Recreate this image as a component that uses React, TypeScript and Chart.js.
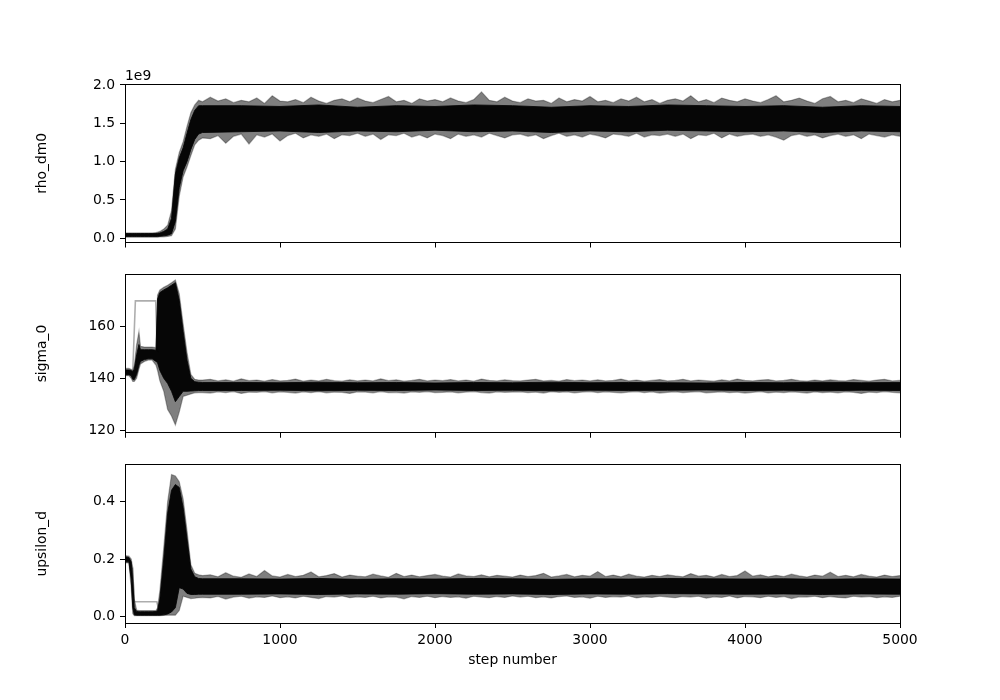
import React, { useEffect, useRef } from "react";
import { Chart, registerables } from "chart.js";

Chart.register(...registerables);

const FONT_FAMILY = "'DejaVu Sans', sans-serif";
const FONT_SIZE = 13.9;

// ---- x grids (step number) ----
// transient grid (25 points): idx 0..24
const transientSteps = [0, 25, 40, 50, 60, 75, 90, 100, 125, 150, 175, 200, 210, 225, 250, 275, 300, 325, 350, 375, 400, 425, 450, 475, 500];
const stationarySteps = [
  550, 600, 650, 700, 750, 800, 850, 900, 950, 1000,
  1050, 1100, 1150, 1200, 1250, 1300, 1350, 1400, 1450, 1500,
  1550, 1600, 1650, 1700, 1750, 1800, 1850, 1900, 1950, 2000,
  2050, 2100, 2150, 2200, 2250, 2300, 2350, 2400, 2450, 2500,
  2550, 2600, 2650, 2700, 2750, 2800, 2850, 2900, 2950, 3000,
  3050, 3100, 3150, 3200, 3250, 3300, 3350, 3400, 3450, 3500,
  3550, 3600, 3650, 3700, 3750, 3800, 3850, 3900, 3950, 4000,
  4050, 4100, 4150, 4200, 4250, 4300, 4350, 4400, 4450, 4500,
  4550, 4600, 4650, 4700, 4750, 4800, 4850, 4900, 4950, 5000,
];
const coreStationarySteps = [750, 1000, 1250, 1500, 1750, 2000, 2250, 2500, 2750, 3000, 3250, 3500, 3750, 4000, 4250, 4500, 4750, 5000];
const bandSteps = [...transientSteps, ...stationarySteps];
const coreSteps = [...transientSteps, ...coreStationarySteps];

// ---- tick labels ----
const stepTicks = [0, 1000, 2000, 3000, 4000, 5000];
const rhoTicks = [0, 0.5, 1.0, 1.5, 2.0];
const sigmaTicks = [120, 140, 160];
const upsTicks = [0, 0.2, 0.4];

// ---- rho_dm0 (units of 1e9) ----
const rhoFringeUpper = [
  0.07, 0.07, 0.07, 0.07, 0.07, 0.07, 0.07, 0.07, 0.07, 0.07, 0.07, 0.075, 0.08,
  0.09, 0.12, 0.17, 0.36, 0.90, 1.12, 1.26, 1.46, 1.64, 1.74, 1.80, 1.78,
  1.84, 1.79, 1.82, 1.77, 1.80, 1.78, 1.83, 1.76, 1.86, 1.79,
  1.78, 1.81, 1.77, 1.84, 1.79, 1.76, 1.80, 1.82, 1.78, 1.83,
  1.79, 1.77, 1.81, 1.85, 1.78, 1.80, 1.76, 1.82, 1.79, 1.81,
  1.78, 1.83, 1.79, 1.77, 1.81, 1.91, 1.80, 1.78, 1.84, 1.79,
  1.77, 1.82, 1.79, 1.80, 1.76, 1.83, 1.78, 1.81, 1.79, 1.85,
  1.78, 1.80, 1.77, 1.82, 1.79, 1.84, 1.78, 1.81, 1.76, 1.80,
  1.82, 1.79, 1.86, 1.78, 1.81, 1.77, 1.83, 1.80, 1.78, 1.82,
  1.79, 1.77, 1.81, 1.86, 1.78, 1.80, 1.83, 1.79, 1.76, 1.82,
  1.85, 1.78, 1.80, 1.77, 1.82, 1.79, 1.76, 1.81, 1.78, 1.80,
];
const rhoFringeLower = [
  0.015, 0.015, 0.015, 0.015, 0.015, 0.015, 0.015, 0.015, 0.015, 0.015, 0.015, 0.015, 0.015,
  0.018, 0.02, 0.025, 0.035, 0.12, 0.55, 0.80, 0.93, 1.08, 1.22, 1.28, 1.31,
  1.30, 1.34, 1.24, 1.33, 1.36, 1.23, 1.35, 1.32, 1.36, 1.27,
  1.34, 1.37, 1.31, 1.35, 1.33, 1.36, 1.30, 1.35, 1.34, 1.37,
  1.33, 1.36, 1.29, 1.35, 1.34, 1.37, 1.32, 1.35, 1.31, 1.36,
  1.34, 1.30, 1.36, 1.33, 1.35, 1.32, 1.37, 1.34, 1.31, 1.35,
  1.36, 1.33, 1.35, 1.30, 1.34, 1.37, 1.33, 1.35, 1.32, 1.36,
  1.34, 1.31, 1.36, 1.35, 1.33, 1.37, 1.32, 1.35, 1.34, 1.36,
  1.33, 1.36, 1.30, 1.35, 1.34, 1.37, 1.31, 1.36, 1.33, 1.35,
  1.36, 1.33, 1.35, 1.32, 1.28, 1.34, 1.36, 1.33, 1.35, 1.31,
  1.34, 1.36, 1.33, 1.35, 1.30, 1.36, 1.34, 1.32, 1.35, 1.33,
];
const rhoCoreUpper = [
  0.062, 0.062, 0.062, 0.062, 0.062, 0.062, 0.062, 0.062, 0.062, 0.062, 0.062, 0.062, 0.065,
  0.07, 0.09, 0.12, 0.26, 0.84, 1.05, 1.18, 1.37, 1.55, 1.67, 1.73, 1.73,
  1.73, 1.72, 1.74, 1.71, 1.73, 1.72, 1.74, 1.73, 1.71, 1.73, 1.72, 1.74, 1.73, 1.72, 1.73, 1.71, 1.73, 1.72,
];
const rhoCoreLower = [
  0.025, 0.025, 0.025, 0.025, 0.025, 0.025, 0.025, 0.025, 0.025, 0.025, 0.025, 0.025, 0.025,
  0.028, 0.032, 0.04, 0.06, 0.22, 0.66, 0.88, 1.0, 1.16, 1.29, 1.36, 1.38,
  1.39, 1.40, 1.38, 1.40, 1.39, 1.41, 1.39, 1.40, 1.38, 1.40, 1.39, 1.41, 1.40, 1.39, 1.40, 1.38, 1.40, 1.39,
];

// ---- sigma_0 ----
const sigmaFringeUpper = [
  143.8, 143.8, 143.5, 143.0, 145.0, 153.0, 158.0, 152.3, 152.0, 152.0, 152.0, 151.8, 172.0,
  174.0, 175.0, 175.8, 176.8, 177.8, 172.5, 161.0, 150.0, 141.5, 139.6, 139.3, 139.3,
  139.6, 139.0, 139.4, 138.9, 139.8, 139.1, 139.3, 138.9, 139.5, 139.0,
  139.2, 139.7, 138.9, 139.3, 139.0, 139.6, 139.1, 138.9, 139.4, 139.0,
  139.3, 139.0, 139.8, 139.1, 139.4, 138.9, 139.2, 139.6, 139.0, 139.3,
  139.1, 139.5, 139.0, 139.3, 138.9, 139.7, 139.2, 139.0, 139.4, 139.1,
  139.0, 139.3, 139.6, 139.0, 139.2, 138.9, 139.5, 139.1, 139.3, 139.0,
  139.4, 139.0, 139.2, 139.7, 139.0, 139.3, 138.9, 139.2, 139.5, 139.0,
  139.2, 139.6, 139.0, 139.3, 139.1, 138.9, 139.4, 139.0, 139.7, 139.2,
  139.0, 139.3, 139.5, 139.0, 139.2, 139.6, 139.1, 138.9, 139.3, 139.0,
  139.4, 139.1, 139.0, 139.5, 139.2, 138.9, 139.3, 139.6, 139.0, 139.2,
];
const sigmaFringeLower = [
  141.0, 141.0, 140.0, 138.8, 138.8, 140.0, 143.5, 145.5, 146.5, 147.0, 147.0, 145.0, 143.0,
  139.0, 135.0, 128.0, 125.5, 122.0, 127.0, 133.0, 133.5, 134.0, 134.4, 134.5, 134.5,
  134.3, 134.8, 134.5, 134.9, 134.2, 134.7, 134.6, 134.9, 134.4, 134.8,
  134.6, 134.3, 134.8, 134.5, 134.9, 134.4, 134.7, 134.6, 134.2, 134.8,
  134.7, 134.4, 134.9, 134.5, 134.6, 134.3, 134.8, 134.6, 134.9, 134.5,
  134.6, 134.8, 134.4, 134.7, 134.9, 134.5, 134.3, 134.8, 134.6, 134.7,
  134.8, 134.5, 134.7, 134.3, 134.9, 134.6, 134.8, 134.4, 134.7, 134.9,
  134.5, 134.8, 134.6, 134.4, 134.7, 134.9, 134.5, 134.8, 134.3, 134.6,
  134.8, 134.5, 134.7, 134.9, 134.4, 134.6, 134.8, 134.5, 134.7, 134.3,
  134.6, 134.9, 134.4, 134.7, 134.5, 134.8, 134.6, 134.3, 134.8, 134.5,
  134.7, 134.4, 134.8, 134.6, 134.2, 134.7, 134.5, 134.9, 134.6, 134.4,
];
const sigmaCoreUpper = [
  143.2, 143.2, 143.0, 142.5, 143.5, 149.0, 153.0, 151.0, 151.0, 151.0, 151.0, 150.8, 170.5,
  173.0, 174.0, 174.8, 175.8, 176.8, 170.0, 158.0, 147.0, 140.0, 138.7, 138.5, 138.4,
  138.4, 138.3, 138.5, 138.3, 138.4, 138.2, 138.4, 138.3, 138.5, 138.3, 138.4, 138.3, 138.2, 138.4, 138.3, 138.5, 138.3, 138.4,
];
const sigmaCoreLower = [
  141.4, 141.4, 141.0, 139.6, 139.5, 141.5, 145.0, 146.5, 147.2, 147.5, 147.5, 146.5, 146.0,
  143.0, 140.0, 138.0, 135.0, 131.0, 133.0, 135.0, 135.0, 135.1, 135.2, 135.3, 135.3,
  135.3, 135.4, 135.2, 135.4, 135.3, 135.5, 135.3, 135.4, 135.2, 135.4, 135.3, 135.4, 135.5, 135.3, 135.4, 135.2, 135.4, 135.3,
];
const sigmaOutlierSteps = [50, 67, 198, 208, 220];
const sigmaOutlierValues = [142.5, 169.8, 169.8, 150.5, 150.0];

// ---- upsilon_d ----
const upsFringeUpper = [
  0.212, 0.21, 0.20, 0.17, 0.06, 0.022, 0.02, 0.02, 0.02, 0.02, 0.02, 0.02, 0.03,
  0.09, 0.24, 0.40, 0.495, 0.49, 0.47, 0.41, 0.30, 0.18, 0.15, 0.145, 0.142,
  0.145, 0.138, 0.152, 0.140, 0.136, 0.148, 0.139, 0.160, 0.141, 0.137,
  0.146, 0.139, 0.143, 0.155, 0.138, 0.142, 0.149, 0.137, 0.144, 0.140,
  0.138, 0.147, 0.141, 0.136, 0.150, 0.139, 0.144, 0.138, 0.142, 0.146,
  0.140, 0.137, 0.148, 0.141, 0.139, 0.145, 0.138, 0.143, 0.140, 0.137,
  0.144, 0.139, 0.142, 0.150, 0.137, 0.141, 0.146, 0.138, 0.143, 0.140,
  0.156, 0.139, 0.144, 0.138, 0.147, 0.140, 0.137, 0.143, 0.139, 0.145,
  0.141, 0.138, 0.149, 0.140, 0.143, 0.137, 0.146, 0.139, 0.142, 0.158,
  0.140, 0.145, 0.138, 0.143, 0.139, 0.147, 0.141, 0.137, 0.144, 0.140,
  0.154, 0.139, 0.143, 0.138, 0.146, 0.140, 0.137, 0.144, 0.139, 0.142,
];
const upsFringeLower = [
  0.186, 0.186, 0.10, 0.01, 0.002, 0.002, 0.002, 0.002, 0.002, 0.002, 0.002, 0.002, 0.002,
  0.002, 0.003, 0.004, 0.004, 0.004, 0.02, 0.07, 0.066, 0.062, 0.063, 0.065, 0.066,
  0.064, 0.069, 0.060, 0.067, 0.070, 0.063, 0.068, 0.066, 0.071, 0.065,
  0.068, 0.064, 0.070, 0.066, 0.062, 0.069, 0.067, 0.071, 0.065, 0.068,
  0.066, 0.070, 0.064, 0.068, 0.067, 0.061, 0.069, 0.066, 0.070, 0.065,
  0.069, 0.066, 0.068, 0.063, 0.070, 0.067, 0.065, 0.069, 0.066, 0.071,
  0.067, 0.070, 0.065, 0.068, 0.064, 0.069, 0.071, 0.066, 0.068, 0.063,
  0.070, 0.066, 0.069, 0.067, 0.071, 0.064, 0.068, 0.066, 0.070, 0.067,
  0.065, 0.069, 0.067, 0.070, 0.063, 0.068, 0.066, 0.071, 0.064, 0.069,
  0.068, 0.065, 0.070, 0.066, 0.069, 0.062, 0.068, 0.067, 0.070, 0.065,
  0.069, 0.066, 0.064, 0.070, 0.067, 0.069, 0.065, 0.068, 0.066, 0.070,
];
const upsCoreUpper = [
  0.208, 0.205, 0.19, 0.12, 0.03, 0.017, 0.016, 0.016, 0.016, 0.016, 0.016, 0.017, 0.02,
  0.06, 0.20, 0.36, 0.44, 0.46, 0.45, 0.38, 0.27, 0.165, 0.138, 0.132, 0.131,
  0.131, 0.130, 0.132, 0.129, 0.131, 0.130, 0.132, 0.131, 0.129, 0.131, 0.130, 0.132, 0.131, 0.130, 0.131, 0.129, 0.131, 0.130,
];
const upsCoreLower = [
  0.19, 0.19, 0.13, 0.03, 0.005, 0.004, 0.004, 0.004, 0.004, 0.004, 0.004, 0.004, 0.004,
  0.004, 0.005, 0.008, 0.015, 0.03, 0.10, 0.095, 0.08, 0.076, 0.076, 0.077, 0.077,
  0.077, 0.078, 0.076, 0.078, 0.077, 0.079, 0.077, 0.078, 0.076, 0.078, 0.077, 0.079, 0.078, 0.077, 0.078, 0.076, 0.078, 0.077,
];
const upsOutlierSteps = [48, 60, 205, 215];
const upsOutlierValues = [0.17, 0.051, 0.051, 0.03];

const pts = (xs: number[], ys: number[]) => xs.map((x, i) => ({ x, y: ys[i] }));

const font = { family: FONT_FAMILY, size: FONT_SIZE };

type PanelSpec = {
  label: string;
  top: number;
  bottom: number;
  min: number;
  max: number;
  ticks: number[];
  fmt: (v: number) => string;
  fu: number[];
  fl: number[];
  cu: number[];
  cl: number[];
  outX: number[];
  outY: number[];
  showX: boolean;
  offsetText?: string;
};

const panels: PanelSpec[] = [
  {
    label: "rho_dm0", top: 84, bottom: 242.53, min: -0.055, max: 2.013, ticks: rhoTicks,
    fmt: (v) => v.toFixed(1), fu: rhoFringeUpper, fl: rhoFringeLower, cu: rhoCoreUpper, cl: rhoCoreLower,
    outX: [], outY: [], showX: false, offsetText: "1e9",
  },
  {
    label: "sigma_0", top: 274.24, bottom: 432.76, min: 119.05, max: 180.03, ticks: sigmaTicks,
    fmt: (v) => v.toFixed(0), fu: sigmaFringeUpper, fl: sigmaFringeLower, cu: sigmaCoreUpper, cl: sigmaCoreLower,
    outX: sigmaOutlierSteps, outY: sigmaOutlierValues, showX: false,
  },
  {
    label: "upsilon_d", top: 464.47, bottom: 623, min: -0.0234, max: 0.530, ticks: upsTicks,
    fmt: (v) => v.toFixed(1), fu: upsFringeUpper, fl: upsFringeLower, cu: upsCoreUpper, cl: upsCoreLower,
    outX: upsOutlierSteps, outY: upsOutlierValues, showX: true,
  },
];

const X_AXIS_H_LABELS = 46;
const X_AXIS_H_PLAIN = 10;
const PAD_LEFT = 34;
const Y_AXIS_W = 91;

function makeConfig(p: PanelSpec): any {
  const xh = p.showX ? X_AXIS_H_LABELS : X_AXIS_H_PLAIN;
  const framePlugin = {
    id: "frame",
    afterDraw(chart: any) {
      const { ctx, chartArea: a } = chart;
      ctx.save();
      ctx.strokeStyle = "#000";
      ctx.lineWidth = 1;
      const l = Math.floor(a.left) + 0.5;
      const t = Math.floor(a.top) + 0.5;
      const r = Math.floor(a.right) + 0.5;
      const b = Math.floor(a.bottom) + 0.5;
      ctx.strokeRect(l, t, r - l, b - t);
      if (p.offsetText) {
        ctx.fillStyle = "#000";
        ctx.font = `${FONT_SIZE}px ${FONT_FAMILY}`;
        ctx.textAlign = "left";
        ctx.textBaseline = "alphabetic";
        ctx.fillText(p.offsetText, a.left, a.top - 4);
      }
      ctx.restore();
    },
  };
  const line = { pointRadius: 0, tension: 0 };
  return {
    type: "line",
    data: {
      datasets: [
        { ...line, data: pts(coreSteps, p.cl), borderColor: "rgba(0,0,0,0.8)", borderWidth: 1, fill: false },
        { ...line, data: pts(coreSteps, p.cu), borderColor: "rgba(0,0,0,0.8)", borderWidth: 1, fill: "-1", backgroundColor: "rgba(0,0,0,0.95)" },
        { ...line, data: pts(bandSteps, p.fl), borderColor: "rgba(0,0,0,0.3)", borderWidth: 1.2, fill: false },
        { ...line, data: pts(bandSteps, p.fu), borderColor: "rgba(0,0,0,0.3)", borderWidth: 1.2, fill: "-1", backgroundColor: "rgba(0,0,0,0.5)" },
        { ...line, data: pts(p.outX, p.outY), borderColor: "rgba(0,0,0,0.32)", borderWidth: 1.6, fill: false },
      ],
    },
    options: {
      animation: false,
      responsive: false,
      events: [],
      layout: { padding: { left: PAD_LEFT, right: 100, top: p.top, bottom: 700 - p.bottom - xh } },
      plugins: { legend: { display: false }, tooltip: { enabled: false } },
      scales: {
        x: {
          type: "linear",
          min: 0,
          max: 5000,
          afterBuildTicks: (s: any) => { s.ticks = stepTicks.map((v) => ({ value: v })); },
          afterFit: (s: any) => { s.height = xh; },
          grid: { display: true, drawOnChartArea: false, drawTicks: true, tickLength: 5, color: "#000", lineWidth: 1 },
          border: { display: false },
          ticks: { display: p.showX, color: "#000", font, padding: 4, maxRotation: 0, autoSkip: false, callback: (v: any) => String(v) },
          title: { display: p.showX, text: "step number", color: "#000", font, padding: 0 },
        },
        y: {
          type: "linear",
          min: p.min,
          max: p.max,
          afterBuildTicks: (s: any) => { s.ticks = p.ticks.map((v) => ({ value: v })); },
          afterFit: (s: any) => { s.width = Y_AXIS_W; },
          grid: { display: true, drawOnChartArea: false, drawTicks: true, tickLength: 5, color: "#000", lineWidth: 1 },
          border: { display: false },
          ticks: { color: "#000", font, padding: 5, autoSkip: false, callback: (v: any) => p.fmt(Number(v)) },
          title: { display: true, text: p.label, color: "#000", font, padding: 0 },
        },
      },
    },
    plugins: [framePlugin],
  };
}

export default function App() {
  const refs = [useRef<HTMLCanvasElement>(null), useRef<HTMLCanvasElement>(null), useRef<HTMLCanvasElement>(null)];
  useEffect(() => {
    const charts = panels.map((p, i) => new Chart(refs[i].current as HTMLCanvasElement, makeConfig(p)));
    return () => charts.forEach((c) => c.destroy());
  }, []);
  return (
    <div style={{ position: "absolute", left: 0, top: 0, width: 1000, height: 700, background: "#fff" }}>
      {panels.map((p, i) => (
        <canvas
          key={p.label}
          ref={refs[i]}
          width={1000}
          height={700}
          style={{ position: "absolute", left: 0, top: 0, width: 1000, height: 700 }}
        />
      ))}
    </div>
  );
}
